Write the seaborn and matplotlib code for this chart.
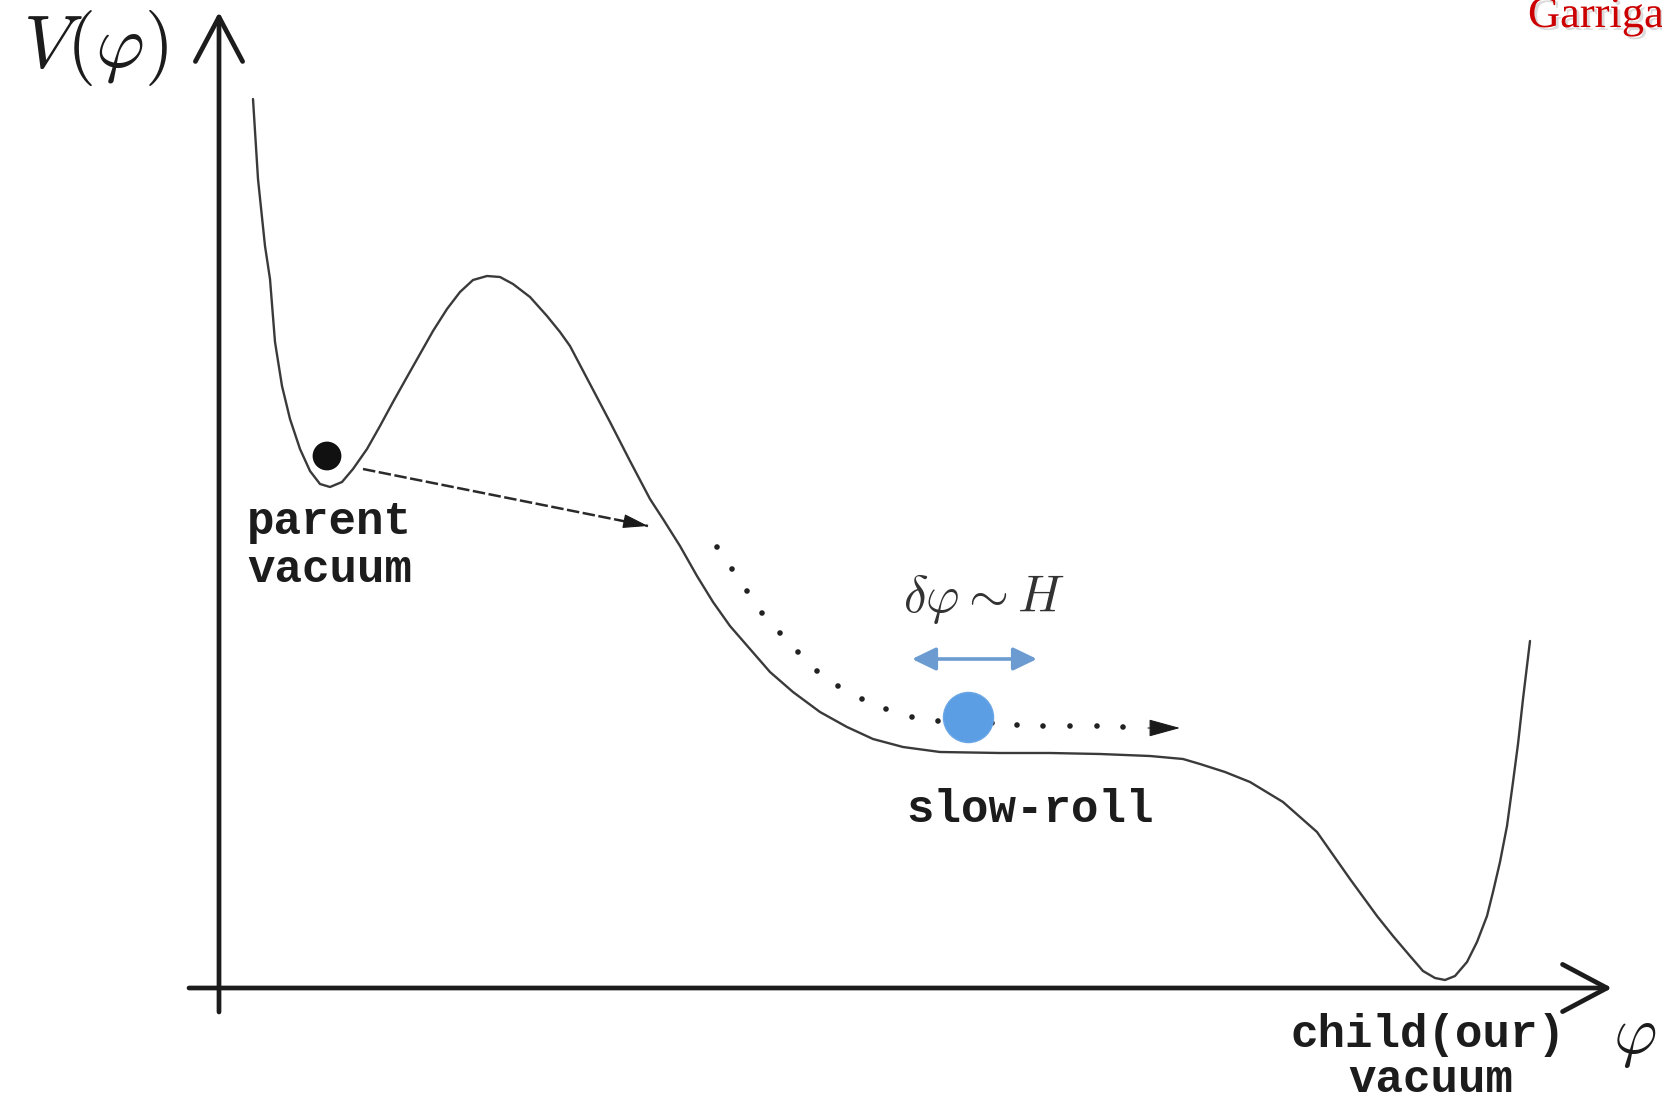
import matplotlib
matplotlib.use("Agg")
import matplotlib.pyplot as plt
import matplotlib.patheffects as pe
import pandas as pd
import seaborn as sns

# Potential V(phi) along the sketched landscape (phi, V in arbitrary units)
phi_curve = [0.34, 0.39, 0.46, 0.51, 0.56, 0.63, 0.71, 0.81, 0.91, 1.01, 1.11, 1.23,
             1.34, 1.48, 1.61, 1.74, 1.88, 2.01, 2.14, 2.28, 2.41, 2.54, 2.68, 2.81,
             2.94, 3.11, 3.28, 3.41, 3.51, 3.71, 3.91, 4.11, 4.31, 4.44, 4.61, 4.78,
             4.94, 5.11, 5.31, 5.51, 5.74, 6.01, 6.28, 6.54, 6.84, 7.21, 7.81, 8.31,
             8.81, 9.31, 9.64, 9.81, 10.06, 10.31, 10.64, 10.98, 11.31, 11.58, 11.74,
             11.91, 12.04, 12.16, 12.26, 12.36, 12.48, 12.58, 12.68, 12.74, 12.81,
             12.88, 12.94, 12.99, 13.04, 13.11]
V_curve = [8.89, 8.09, 7.42, 7.09, 6.46, 6.02, 5.69, 5.39, 5.17, 5.04, 5.01, 5.06,
           5.19, 5.39, 5.62, 5.86, 6.11, 6.34, 6.57, 6.79, 6.96, 7.08, 7.12, 7.11,
           7.04, 6.91, 6.72, 6.56, 6.42, 6.04, 5.66, 5.27, 4.89, 4.69, 4.42, 4.12,
           3.86, 3.62, 3.39, 3.16, 2.96, 2.76, 2.61, 2.49, 2.41, 2.36, 2.35, 2.35,
           2.34, 2.32, 2.29, 2.24, 2.16, 2.06, 1.86, 1.56, 1.09, 0.72, 0.52,
           0.32, 0.17, 0.10, 0.08, 0.12, 0.26, 0.46, 0.72, 0.96, 1.26,
           1.62, 2.06, 2.44, 2.89, 3.47]

# Classical roll-down path (dotted)
phi_roll = [4.98, 5.13, 5.28, 5.43, 5.61, 5.79, 5.98, 6.19, 6.43, 6.67, 6.93, 7.19,
            7.73, 7.98, 8.24, 8.51, 8.78, 9.04]
V_roll = [4.41, 4.19, 3.97, 3.75, 3.55, 3.36, 3.17, 3.02, 2.89, 2.79, 2.71, 2.67,
          2.65, 2.63, 2.62, 2.62, 2.62, 2.61]
roll_tip = (9.61, 2.60)

# Field positions
parent_pos = (1.08, 5.32)
ball_pos = (7.49, 2.71)
tunnel_start, tunnel_end = (1.44, 5.19), (4.29, 4.62)
fluct_left, fluct_right = (6.93, 3.29), (8.18, 3.29)

# Axis extents
phi_axis = (-0.30, 13.93)
V_axis = (-0.24, 9.76)

# Labels
parent_lines = ["parent", "vacuum"]
child_lines = ["child(our)", "vacuum"]
slow_label = "slow-roll"
fluct_label = r"$\delta\varphi \sim H$"
ylabel = r"$V(\varphi)$"
xlabel = r"$\varphi$"
credit = "Garriga"

sns.set_theme(style="white")
plt.rcParams["mathtext.fontset"] = "cm"

fig = plt.figure(figsize=(16.62, 10.98), dpi=100)
ax = fig.add_axes([0, 0, 1, 1])
ax.set_xlim(-2.19, 14.43)
ax.set_ylim(-1.10, 9.88)
ax.axis("off")

ink = "#1c1c1c"

# Coordinate axes with open arrow heads
axis_style = "->,head_length=3.2,head_width=1.7"
ax.annotate("", xy=(0, V_axis[1]), xytext=(0, V_axis[0]),
            arrowprops=dict(arrowstyle=axis_style, mutation_scale=10, lw=3.4,
                            color=ink, shrinkA=0, shrinkB=0))
ax.annotate("", xy=(phi_axis[1], 0), xytext=(phi_axis[0], 0),
            arrowprops=dict(arrowstyle=axis_style, mutation_scale=10, lw=3.4,
                            color=ink, shrinkA=0, shrinkB=0))

# Potential
curve = pd.DataFrame({"phi": phi_curve, "V": V_curve})
sns.lineplot(data=curve, x="phi", y="V", sort=False, estimator=None,
             color="#3a3a3a", lw=1.7, ax=ax)
ax.lines[-1].set_solid_joinstyle("round")
ax.lines[-1].set_solid_capstyle("round")

# Tunnelling from the parent vacuum
tunnel = pd.DataFrame({"phi": [tunnel_start[0], tunnel_end[0]],
                       "V": [tunnel_start[1], tunnel_end[1]]})
sns.lineplot(data=tunnel, x="phi", y="V", sort=False, estimator=None,
             color="#2a2a2a", lw=1.8, dashes=False, ax=ax)
ax.lines[-1].set_dashes([5, 1.4])
ax.annotate("", xy=tunnel_end,
            xytext=(tunnel_end[0] - 0.3, tunnel_end[1] + 0.06),
            arrowprops=dict(arrowstyle="-|>,head_length=1.6,head_width=0.45",
                            mutation_scale=10, lw=0.8, color="#1a1a1a",
                            shrinkA=0, shrinkB=0))

# Slow-roll trajectory
roll = pd.DataFrame({"phi": phi_roll, "V": V_roll})
sns.scatterplot(data=roll, x="phi", y="V", s=16, color="#222222",
                edgecolor="none", ax=ax)
ax.annotate("", xy=roll_tip, xytext=(roll_tip[0] - 0.32, roll_tip[1]),
            arrowprops=dict(arrowstyle="-|>,head_length=2.0,head_width=0.55",
                            mutation_scale=10, lw=0.8, color="#1a1a1a",
                            shrinkA=0, shrinkB=0))

# Field in the parent vacuum and the slowly rolling field
sns.scatterplot(x=[parent_pos[0]], y=[parent_pos[1]], s=430, color="#111111",
                edgecolor="none", ax=ax, zorder=4)
sns.scatterplot(x=[ball_pos[0]], y=[ball_pos[1]], s=1300, color="#5c9ee3",
                edgecolor="#6aa6e6", linewidth=1, ax=ax, zorder=4)

# Quantum fluctuation range
ax.annotate("", xy=fluct_right, xytext=fluct_left,
            arrowprops=dict(arrowstyle="<|-|>,head_length=1.45,head_width=0.7",
                            mutation_scale=10, lw=2.6, color="#6b9bd0",
                            shrinkA=0, shrinkB=0))

# Text
mono = dict(family="Liberation Mono", weight="bold", fontsize=33, color=ink)
ax.text(0.28, 4.54, parent_lines[0], ha="left", va="baseline", **mono)
ax.text(0.28, 4.06, parent_lines[1], ha="left", va="baseline", **mono)
ax.text(8.11, 1.66, slow_label, ha="center", va="baseline", **mono)
ax.text(12.09, -0.59, child_lines[0], ha="center", va="baseline", **mono)
ax.text(12.12, -1.04, child_lines[1], ha="center", va="baseline", **mono)

ax.text(7.65, 3.89, fluct_label, ha="center", va="center", fontsize=37,
        color="#333333")
ax.text(-1.23, 9.40, ylabel, ha="center", va="center", fontsize=54, color=ink)
ax.text(14.16, -0.49, xlabel, ha="center", va="center", fontsize=48, color=ink)

ax.text(13.09, 9.61, credit, ha="left", va="baseline", fontsize=32,
        family="Liberation Serif", color="#cc0000",
        path_effects=[pe.withSimplePatchShadow(offset=(2, -2), shadow_rgbFace="#999999",
                                               alpha=0.35)])

fig.savefig("out.png", dpi=100, facecolor="white")
